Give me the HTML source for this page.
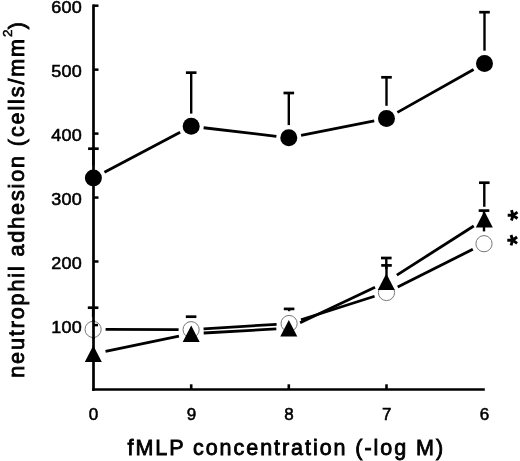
<!DOCTYPE html>
<html><head><meta charset="utf-8"><style>
html,body{margin:0;padding:0;background:#fff;}
svg{display:block;will-change:transform;}
.tl{font-family:"Liberation Sans",sans-serif;font-size:17px;fill:#000;stroke:#000;stroke-width:0.55px;}
.yl{letter-spacing:0.3px;}
.ti{font-family:"Liberation Sans",sans-serif;font-size:21.5px;font-weight:normal;fill:#000;stroke:#000;stroke-width:0.85px;}
#xt{letter-spacing:1.95px;}
#yt{letter-spacing:1.9px;}
.ast{font-family:"Liberation Sans",sans-serif;font-size:24px;font-weight:bold;fill:#000;}
</style></head><body>
<svg width="520" height="461" viewBox="0 0 520 461">
<line x1="93.5" y1="4.5" x2="93.5" y2="390.7" stroke="#000" stroke-width="2.7"/>
<line x1="92.2" y1="389.4" x2="484.8" y2="389.4" stroke="#000" stroke-width="2.5"/>
<line x1="93" y1="5.70" x2="98.5" y2="5.70" stroke="#000" stroke-width="2.5"/>
<text transform="translate(82.2,13.40) scale(1.06,1)" text-anchor="end" class="tl yl">600</text>
<line x1="93" y1="69.65" x2="98.5" y2="69.65" stroke="#000" stroke-width="2.5"/>
<text transform="translate(82.2,77.35) scale(1.06,1)" text-anchor="end" class="tl yl">500</text>
<line x1="93" y1="133.60" x2="98.5" y2="133.60" stroke="#000" stroke-width="2.5"/>
<text transform="translate(82.2,141.30) scale(1.06,1)" text-anchor="end" class="tl yl">400</text>
<line x1="93" y1="197.55" x2="98.5" y2="197.55" stroke="#000" stroke-width="2.5"/>
<text transform="translate(82.2,205.25) scale(1.06,1)" text-anchor="end" class="tl yl">300</text>
<line x1="93" y1="261.50" x2="98.5" y2="261.50" stroke="#000" stroke-width="2.5"/>
<text transform="translate(82.2,269.20) scale(1.06,1)" text-anchor="end" class="tl yl">200</text>
<line x1="93" y1="325.45" x2="98.5" y2="325.45" stroke="#000" stroke-width="2.5"/>
<text transform="translate(82.2,333.15) scale(1.06,1)" text-anchor="end" class="tl yl">100</text>
<text x="93.60" y="420" text-anchor="middle" class="tl">0</text>
<line x1="191.20" y1="389" x2="191.20" y2="384.3" stroke="#000" stroke-width="2.6"/>
<text x="191.40" y="420" text-anchor="middle" class="tl">9</text>
<line x1="288.80" y1="389" x2="288.80" y2="384.3" stroke="#000" stroke-width="2.6"/>
<text x="289.00" y="420" text-anchor="middle" class="tl">8</text>
<line x1="386.50" y1="389" x2="386.50" y2="384.3" stroke="#000" stroke-width="2.6"/>
<text x="386.70" y="420" text-anchor="middle" class="tl">7</text>
<text x="484.60" y="420" text-anchor="middle" class="tl">6</text>
<line x1="93.40" y1="148.70" x2="93.40" y2="165.30" stroke="#000" stroke-width="2.4"/><line x1="88.10" y1="148.70" x2="98.70" y2="148.70" stroke="#000" stroke-width="2.7"/>
<line x1="191.20" y1="72.65" x2="191.20" y2="113.60" stroke="#000" stroke-width="2.4"/><line x1="185.90" y1="72.65" x2="196.50" y2="72.65" stroke="#000" stroke-width="2.7"/>
<line x1="288.80" y1="93.00" x2="288.80" y2="125.10" stroke="#000" stroke-width="2.4"/><line x1="283.50" y1="93.00" x2="294.10" y2="93.00" stroke="#000" stroke-width="2.7"/>
<line x1="386.50" y1="77.30" x2="386.50" y2="105.80" stroke="#000" stroke-width="2.4"/><line x1="381.20" y1="77.30" x2="391.80" y2="77.30" stroke="#000" stroke-width="2.7"/>
<line x1="484.50" y1="12.20" x2="484.50" y2="50.70" stroke="#000" stroke-width="2.4"/><line x1="479.20" y1="12.20" x2="489.80" y2="12.20" stroke="#000" stroke-width="2.7"/>
<line x1="93.10" y1="307.70" x2="93.10" y2="317.10" stroke="#000" stroke-width="2.4"/><line x1="87.80" y1="307.70" x2="98.40" y2="307.70" stroke="#000" stroke-width="2.7"/>
<line x1="191.10" y1="316.70" x2="191.10" y2="317.40" stroke="#000" stroke-width="2.4"/><line x1="185.80" y1="316.70" x2="196.40" y2="316.70" stroke="#000" stroke-width="2.7"/>
<line x1="289.10" y1="308.90" x2="289.10" y2="311.20" stroke="#000" stroke-width="2.4"/><line x1="283.80" y1="308.90" x2="294.40" y2="308.90" stroke="#000" stroke-width="2.7"/>
<line x1="386.50" y1="265.40" x2="386.50" y2="280.20" stroke="#000" stroke-width="2.4"/><line x1="381.20" y1="265.40" x2="391.80" y2="265.40" stroke="#000" stroke-width="2.7"/>
<line x1="484.00" y1="210.60" x2="484.00" y2="231.40" stroke="#000" stroke-width="2.4"/><line x1="478.70" y1="210.60" x2="489.30" y2="210.60" stroke="#000" stroke-width="2.7"/>
<line x1="386.30" y1="258.00" x2="386.30" y2="269.30" stroke="#000" stroke-width="2.4"/><line x1="381.00" y1="258.00" x2="391.60" y2="258.00" stroke="#000" stroke-width="2.7"/>
<line x1="484.30" y1="182.70" x2="484.30" y2="206.80" stroke="#000" stroke-width="2.4"/><line x1="479.00" y1="182.70" x2="489.60" y2="182.70" stroke="#000" stroke-width="2.7"/>
<line x1="104.45" y1="172.16" x2="180.15" y2="132.14" stroke="#000" stroke-width="2.8"/>
<line x1="203.61" y1="127.76" x2="276.39" y2="136.34" stroke="#000" stroke-width="2.8"/>
<line x1="301.06" y1="135.38" x2="374.24" y2="120.92" stroke="#000" stroke-width="2.8"/>
<line x1="397.40" y1="112.37" x2="473.60" y2="69.53" stroke="#000" stroke-width="2.8"/>
<line x1="105.60" y1="329.44" x2="178.60" y2="329.66" stroke="#000" stroke-width="2.8"/>
<line x1="203.58" y1="328.91" x2="276.62" y2="324.29" stroke="#000" stroke-width="2.8"/>
<line x1="301.01" y1="319.71" x2="374.59" y2="296.29" stroke="#000" stroke-width="2.8"/>
<line x1="397.68" y1="286.91" x2="472.82" y2="249.29" stroke="#000" stroke-width="2.8"/>
<line x1="105.54" y1="351.29" x2="178.96" y2="336.21" stroke="#000" stroke-width="2.8"/>
<line x1="203.68" y1="333.00" x2="276.32" y2="328.90" stroke="#000" stroke-width="2.8"/>
<line x1="300.09" y1="322.83" x2="375.01" y2="287.17" stroke="#000" stroke-width="2.8"/>
<line x1="396.84" y1="275.08" x2="473.76" y2="226.02" stroke="#000" stroke-width="2.8"/>
<circle cx="93.1" cy="329.4" r="8.1" fill="#fff" stroke="#777" stroke-width="1.0"/>
<circle cx="191.1" cy="329.7" r="8.1" fill="#fff" stroke="#777" stroke-width="1.0"/>
<circle cx="289.1" cy="323.5" r="8.1" fill="#fff" stroke="#777" stroke-width="1.0"/>
<circle cx="386.5" cy="292.5" r="8.1" fill="#fff" stroke="#777" stroke-width="1.0"/>
<circle cx="484.0" cy="243.7" r="8.1" fill="#fff" stroke="#777" stroke-width="1.0"/>
<line x1="93" y1="325.1" x2="98" y2="325.1" stroke="#000" stroke-width="2.5"/>
<line x1="93.5" y1="320" x2="93.5" y2="339" stroke="#000" stroke-width="2.7"/>
<polygon points="93.30,345.50 101.80,362.10 84.80,362.10" fill="#000"/>
<polygon points="191.20,325.40 199.70,342.00 182.70,342.00" fill="#000"/>
<polygon points="288.80,319.90 297.30,336.50 280.30,336.50" fill="#000"/>
<polygon points="386.30,273.50 394.80,290.10 377.80,290.10" fill="#000"/>
<polygon points="484.30,211.00 492.80,227.60 475.80,227.60" fill="#000"/>
<circle cx="93.4" cy="178.0" r="8.5" fill="#000"/>
<circle cx="191.2" cy="126.3" r="8.5" fill="#000"/>
<circle cx="288.8" cy="137.8" r="8.5" fill="#000"/>
<circle cx="386.5" cy="118.5" r="8.5" fill="#000"/>
<circle cx="484.5" cy="63.4" r="8.5" fill="#000"/>
<path d="M513.10,215.30L507.70,215.30M513.10,215.30L511.43,220.44M513.10,215.30L517.47,218.47M513.10,215.30L517.47,212.13M513.10,215.30L511.43,210.16" stroke="#000" stroke-width="2.9" stroke-linecap="butt" fill="none"/>
<path d="M512.70,240.20L507.30,240.20M512.70,240.20L511.03,245.34M512.70,240.20L517.07,243.37M512.70,240.20L517.07,237.03M512.70,240.20L511.03,235.06" stroke="#000" stroke-width="2.9" stroke-linecap="butt" fill="none"/>
<text x="127.5" y="454.6" class="ti" id="xt">fMLP concentration (-log M)</text>
<text transform="translate(23.7,377.8) rotate(-90)" x="0" y="0" class="ti" id="yt">neutrophil adhesion (cells/mm<tspan dy="-11.5" font-size="13.5" style="stroke-width:0.5px">2</tspan><tspan dy="11.5" dx="-1.5">)</tspan></text>
</svg>
</body></html>
